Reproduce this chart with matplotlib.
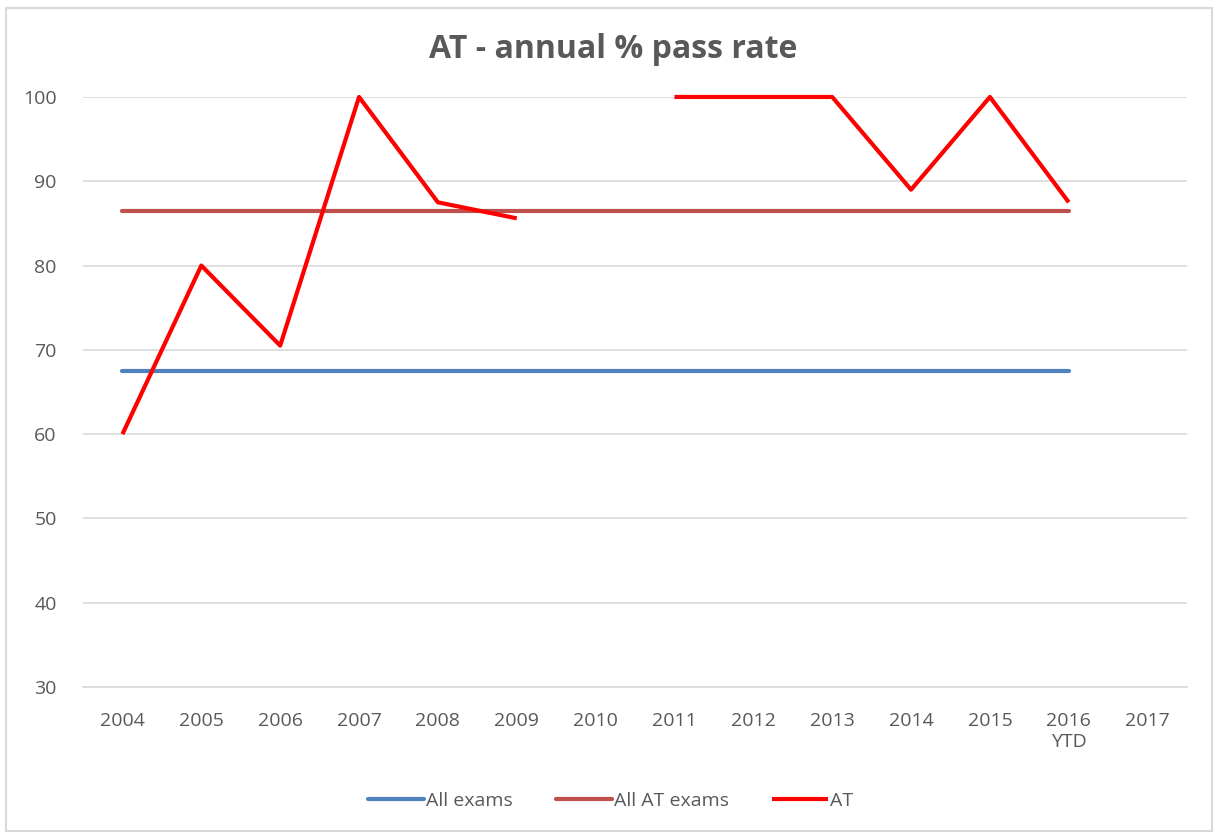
import numpy as np
import matplotlib
matplotlib.use("Agg")
import matplotlib.pyplot as plt
from matplotlib.patches import Rectangle

categories = ["2004", "2005", "2006", "2007", "2008", "2009", "2010",
              "2011", "2012", "2013", "2014", "2015", "2016\nYTD", "2017"]
all_exams = [67.5] * 13 + [np.nan]
all_at_exams = [86.5] * 13 + [np.nan]
at = [60, 80, 70.5, 100, 87.5, 85.6, np.nan, 100, 100, 100, 89, 100, 87.5, np.nan]

plt.rcParams['font.family'] = ['Open Sans', 'DejaVu Sans']
txt = '#595959'

fig = plt.figure(figsize=(12.14, 8.33), dpi=100)
ax = fig.add_axes([0.0684, 0.1753, 0.9094, 0.7083])
x = np.arange(len(categories))

ax.plot(x, all_exams, color='#4F81BD', lw=3.0, label='All exams', solid_capstyle='round', clip_on=False)
ax.plot(x, all_at_exams, color='#C0504D', lw=3.0, label='All AT exams', solid_capstyle='round', clip_on=False)
ax.plot(x, at, color='#FF0000', lw=3.0, label='AT', solid_capstyle='butt', clip_on=False)

ax.set_xlim(-0.5, len(categories) - 0.5)
ax.set_ylim(30, 100)
ax.set_yticks(np.arange(30, 101, 10))
ax.set_xticks(x)
ax.set_xticklabels(categories, fontsize=14, color=txt, linespacing=1.25)
ax.tick_params(axis='y', labelsize=14, colors=txt, length=0, pad=19)
ax.tick_params(axis='x', length=0, pad=18, colors=txt)
ax.grid(axis='y', color='#D9D9D9', lw=1.2)
ax.set_axisbelow(True)
for s in ['top', 'right', 'left']:
    ax.spines[s].set_visible(False)
ax.spines['bottom'].set_color('#D9D9D9')
ax.spines['bottom'].set_linewidth(1.2)

fig.text(0.505, 0.940, 'AT - annual % pass rate', ha='center', va='center',
         fontsize=23, fontweight='bold', color=txt)

leg = fig.legend(loc='center', bbox_to_anchor=(0.503, 0.039), ncol=3, frameon=False,
                 fontsize=14, handlelength=2.9, handletextpad=0.1, columnspacing=2.2)
for t in leg.get_texts():
    t.set_color(txt)

fig.patches.append(Rectangle((0.005, 0.003), 0.993, 0.987, transform=fig.transFigure,
                             fill=False, edgecolor='#D9D9D9', lw=1.5))

fig.savefig('out.png', dpi=100)
